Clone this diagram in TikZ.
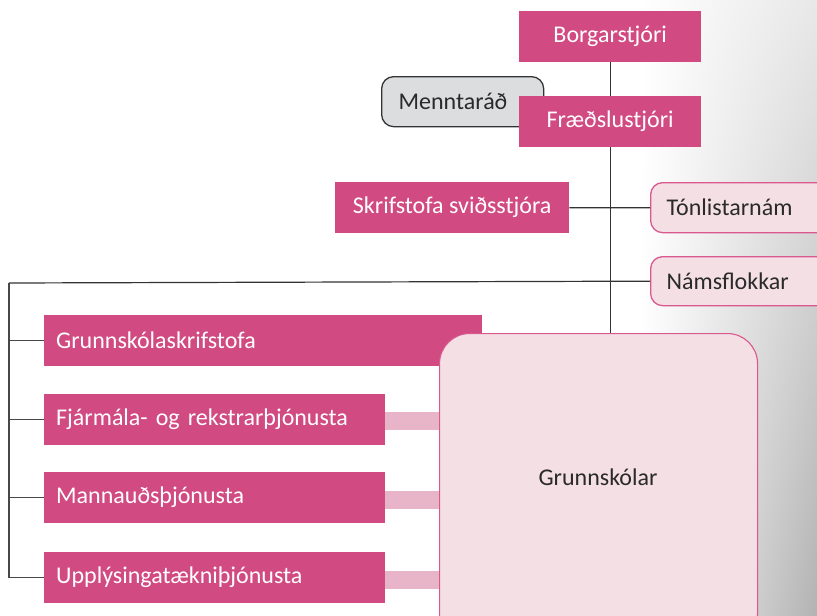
\documentclass[tikz,border=0pt]{standalone}
\usepackage{fontspec}
\setmainfont{Carlito}
\usetikzlibrary{shadings}
\begin{document}
\begin{tikzpicture}[x=1pt,y=-1pt,
  font=\fontsize{24}{26}\selectfont,
  mag/.style={fill=magbox, draw=none, text=white, inner sep=0pt, anchor=north west},
  lpink/.style={fill=lightpink, draw=pinkline, line width=1.3pt, rounded corners=12pt, text=textdark, inner sep=0pt, anchor=north west},
  greybox/.style={fill=greyfill, draw=linedark, line width=1.3pt, rounded corners=12pt, text=textdark, inner sep=0pt, anchor=north west},
  conn/.style={draw=linedark, line width=1.2pt},
  branch/.style={draw=linedark!90, line width=1.5pt},
  bar/.style={draw=barpink, line width=17.6pt}
]
\definecolor{magbox}{HTML}{D14A82}
\definecolor{lightpink}{HTML}{F4DFE5}
\definecolor{pinkline}{HTML}{D9588E}
\definecolor{greyfill}{HTML}{DCDDDF}
\definecolor{linedark}{HTML}{333333}
\definecolor{textdark}{HTML}{2A2A2A}
\definecolor{barpink}{HTML}{E8B4C7}
\useasboundingbox (0,0) rectangle (817,616);
\clip (0,0) rectangle (817,616);
% background photo approximation
\shade[upper left=white, lower left=white, upper right=black!9, lower right=black!30] (640,0) rectangle (817,616);

% top nodes
\node[mag, minimum width=182pt, minimum height=51pt] (bs) at (519,11) {Borgarstjóri};
\node[greybox, minimum width=162pt, minimum height=50pt, text width=128pt, align=left, inner xsep=17pt] (mr) at (381,76) {Menntaráð};
\node[mag, minimum width=182pt, minimum height=51pt] (fr) at (519,96) {Fræðslustjóri};
\node[mag, minimum width=234pt, minimum height=51pt] (ss) at (335,182) {Skrifstofa sviðsstjóra};
\node[lpink, minimum width=190pt, minimum height=50pt, text width=158pt, align=left, inner xsep=16pt] (tn) at (650,182) {Tónlistarnám};
\node[lpink, minimum width=190pt, minimum height=49pt, text width=158pt, align=left, inner xsep=16pt] (nf) at (650,256) {Námsflokkar};

% left column boxes
\node[mag, minimum width=438pt, minimum height=51pt, text width=414pt, align=left, inner xsep=12pt] (gk) at (44,315) {Grunnskólaskrifstofa};
\node[mag, minimum width=341pt, minimum height=51pt, text width=317pt, align=left, inner xsep=12pt] (fj) at (44,394) {Fjármála- og rekstrarþjónusta};
\node[mag, minimum width=341pt, minimum height=51pt, text width=317pt, align=left, inner xsep=12pt] (mn) at (44,472) {Mannauðsþjónusta};
\node[mag, minimum width=341pt, minimum height=51pt, text width=317pt, align=left, inner xsep=12pt] (up) at (44,552) {Upplýsingatækniþjónusta};

% Grunnskolar big box
\node[fill=lightpink, draw=pinkline, line width=1.1pt, rounded corners=30pt, inner sep=0pt, anchor=north west, minimum width=318pt, minimum height=310pt] (gs) at (439,333) {};
\node[text=textdark, inner sep=0pt] (gst) at (598,477) {Grunnskólar};

% spine
\draw[conn] (bs.south) -- (fr.north);
\draw[conn] (fr.south) -- (fr.south |- gs.north);
\draw[conn] (ss.east) -- (tn.west);
\coordinate (lc) at (9,283);
\draw[conn] (nf.west) -- (lc);
\draw[branch] (lc) -- (lc |- up.west) -- (up.west);
\draw[branch] (lc |- gk.west) -- (gk.west);
\draw[branch] (lc |- fj.west) -- (fj.west);
\draw[branch] (lc |- mn.west) -- (mn.west);

% pink bars
\draw[bar] ([yshift=-1.5pt]fj.east) -- ([yshift=-1.5pt]fj.east -| gs.west);
\draw[bar] ([yshift=-2pt]mn.east) -- ([yshift=-2pt]mn.east -| gs.west);
\draw[bar] ([yshift=-2pt]up.east) -- ([yshift=-2pt]up.east -| gs.west);
\end{tikzpicture}
\end{document}
